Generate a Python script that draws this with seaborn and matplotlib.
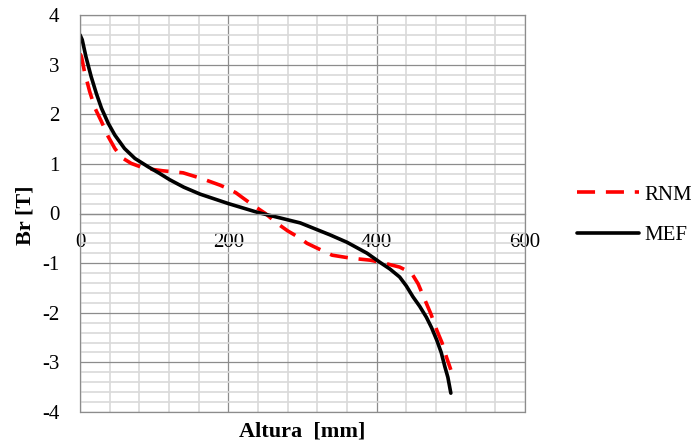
import matplotlib
matplotlib.use("Agg")
import matplotlib.pyplot as plt
from matplotlib.ticker import MultipleLocator
import seaborn as sns

# Values
mef_x = [0, 3, 8, 15, 22, 29, 38, 47, 60, 74, 92, 107, 121, 140, 162, 200, 240,
         270, 297, 337, 360, 387, 404, 418, 431, 440, 449, 458, 467, 474, 481,
         487, 492, 496, 500]
mef_y = [3.6, 3.5, 3.16, 2.76, 2.42, 2.12, 1.82, 1.58, 1.31, 1.11, 0.94, 0.81,
         0.68, 0.53, 0.39, 0.2, 0.02, -0.09, -0.19, -0.43, -0.58, -0.8, -0.98,
         -1.12, -1.28, -1.46, -1.68, -1.87, -2.09, -2.3, -2.55, -2.8, -3.09,
         -3.3, -3.62]

rnm_x = [0, 2, 6, 13, 20, 29, 38, 47, 56, 69, 87, 112, 139, 165, 189, 198, 210,
         220, 233, 250, 265, 280, 297, 306, 320, 340, 365, 391, 410, 431, 447,
         456, 465, 473, 481, 488, 494, 500]
rnm_y = [3.22, 3.16, 2.86, 2.46, 2.13, 1.85, 1.55, 1.31, 1.13, 1.01, 0.91, 0.86,
         0.82, 0.7, 0.57, 0.51, 0.42, 0.31, 0.17, 0.0, -0.19, -0.35, -0.5, -0.6,
         -0.7, -0.84, -0.9, -0.94, -1.0, -1.08, -1.2, -1.42, -1.74, -2.02, -2.35,
         -2.6, -2.89, -3.15]

x_ticks = [0, 200, 400, 600]
y_ticks = [-4, -3, -2, -1, 0, 1, 2, 3, 4]

sns.set_style("white")
plt.rcParams['font.family'] = ['Liberation Serif', 'DejaVu Serif']
plt.rcParams['axes.unicode_minus'] = False

fig = plt.figure(figsize=(6.97, 4.47), dpi=100)
ax = fig.add_axes([80 / 697, 35 / 447, 445 / 697, 397 / 447])

sns.lineplot(x=rnm_x, y=rnm_y, ax=ax, sort=False, color="#ff0000", lw=2.6,
             label="RNM")
ax.lines[-1].set_dashes((5, 3))
sns.lineplot(x=mef_x, y=mef_y, ax=ax, sort=False, color="black", lw=2.6,
             label="MEF")
for ln in ax.lines:
    ln.set_solid_joinstyle('round')
    ln.set_dash_joinstyle('round')

ax.set_xlim(0, 600)
ax.set_ylim(-4, 4)
ax.set_xticks(x_ticks)
ax.set_yticks(y_ticks)
ax.xaxis.set_minor_locator(MultipleLocator(40))
ax.yaxis.set_minor_locator(MultipleLocator(0.2))

ax.grid(which='minor', color='#d9d9d9', lw=1.2)
ax.grid(which='major', color='#8c8c8c', lw=0.9)
ax.set_axisbelow(True)

for s in ax.spines.values():
    s.set_color('#8c8c8c')
    s.set_linewidth(0.9)
ax.spines['bottom'].set_position(('data', 0))
ax.axhline(-4, color='#8c8c8c', lw=0.9, clip_on=False)

ax.tick_params(axis='x', which='major', length=0, pad=14, labelsize=15,
               labelcolor='black')
ax.tick_params(axis='y', which='major', length=5, color='#8c8c8c', pad=10,
               labelsize=15, direction='out', labelcolor='black')
ax.tick_params(which='minor', length=0)

ax.set_xlabel("Altura  [mm]", fontsize=16, fontweight='bold', color='black')
ax.set_ylabel("Br [T]", fontsize=16, fontweight='bold', color='black')
ax.xaxis.set_label_coords(0.5, -0.024)
ax.yaxis.set_label_coords(-0.1, 0.496)

leg = ax.legend(loc='center left', bbox_to_anchor=(558 / 697, 232 / 447),
                bbox_transform=fig.transFigure, frameon=False, fontsize=15,
                handlelength=3.0, labelspacing=1.0, handletextpad=0.25)
for t in leg.get_texts():
    t.set_color('black')

fig.savefig("out.png", dpi=100)
plt.close(fig)
